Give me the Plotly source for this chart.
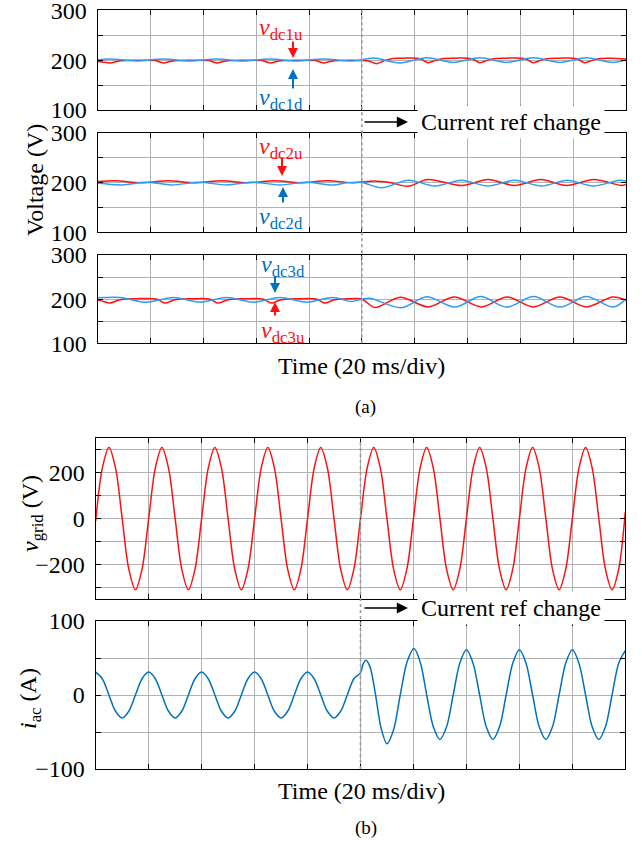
import plotly.graph_objects as go

FONT = "Liberation Serif"
RED = "#FF1010"
DC_BLUE = "#2C9CF4"
AC_BLUE = "#0072BD"
LABEL_BLUE = "#0070C0"
GRID = "#B2B2B2"

W, H = 642, 843

# ---------------- (a) DC-link capacitor voltages (V), time in ms ----------------
dc1u_t = [0, 1.7, 4.7, 7.7, 10.7, 14.7, 21.8, 24.8, 27.8, 30.8, 34.8, 42.0, 45.0, 48.0,
          51.0, 55.0, 62.2, 65.2, 68.2, 71.2, 75.2, 82.4, 85.4, 88.4, 91.4, 95.4, 100.0,
          102.6, 105.6, 108.6, 111.6, 115.3, 122.1, 125.1, 128.1, 131.1, 134.9, 141.7,
          144.7, 147.7, 150.7, 154.8, 161.9, 164.9, 167.9, 170.9, 174.6, 181.4, 184.4,
          187.4, 190.4, 194.2, 200.0]
dc1u_v = [197.5, 196.5, 194.5, 198, 199.5, 199.8, 199.3, 194.5, 198, 199.5, 199.8, 199.3,
          194.5, 198, 199.5, 199.8, 199.3, 194.5, 198, 199.5, 199.8, 199.3, 194.5, 198,
          199.5, 199.8, 199.5,
          198.5, 193.0, 199.0, 203.5, 204.0, 203.0, 195.0, 200.0, 203.5, 204.0, 203.0,
          195.0, 200.0, 203.5, 204.0, 203.0, 195.0, 200.0, 203.5, 204.0, 203.0, 195.0,
          200.0, 203.5, 204.0, 202.5]

dc1d_t = [0, 4.7, 14.7, 24.8, 34.8, 45.0, 55.0, 65.2, 75.2, 85.4, 95.4, 100.0,
          104.5, 114.4, 124.5, 134.6, 144.7, 154.8, 164.9, 175.0, 185.0, 195.1, 200.0]
dc1d_v = [201.0, 202.5, 198.5, 202.5, 198.5, 202.5, 198.5, 202.5, 198.5, 202.5, 198.5, 200.5,
          204.5, 194.5, 205.0, 195.5, 205.0, 195.5, 205.0, 195.5, 205.0, 195.5, 201.0]

dc2u_t = [0, 6.6, 16.6, 26.7, 36.7, 46.8, 56.8, 67.0, 77.0, 87.0, 97.0, 100.0,
          104.7, 110.5, 117.5, 125.0, 137.8, 147.8, 157.9, 167.7, 177.5, 187.9, 198.3, 200.0]
dc2u_v = [202.0, 203.5, 199.5, 203.5, 199.5, 203.5, 199.5, 203.5, 199.5, 203.5, 199.5, 201.0,
          203.0, 200.0, 192.5, 206.0, 194.0, 206.0, 194.0, 206.0, 194.0, 206.0, 194.0, 196.0]

dc2d_t = [0, 8.5, 18.3, 28.0, 38.4, 48.8, 58.9, 69.0, 79.0, 89.0, 94.5, 100.0,
          107.5, 117.6, 127.7, 137.7, 147.8, 157.9, 168.0, 177.8, 187.6, 197.5, 200.0]
dc2d_v = [199.0, 195.0, 200.5, 195.0, 200.5, 195.0, 200.5, 195.0, 200.5, 195.0, 199.5, 200.0,
          189.5, 204.5, 193.0, 204.5, 193.0, 204.5, 193.0, 204.5, 193.0, 204.5, 203.0]

dc3u_t = [0, 1.7, 4.7, 7.7, 10.7, 14.7, 22.5, 25.5, 28.5, 31.5, 35.5, 42.6, 45.6, 48.6,
          51.6, 55.6, 62.8, 65.8, 68.8, 71.8, 75.8, 83.0, 86.0, 89.0, 92.0, 96.0, 100.0,
          105.0, 114.5, 125.1, 135.0, 145.3, 155.0, 164.9, 175.0, 185.0, 195.0, 200.0]
dc3u_v = [198.0, 195.5, 191.0, 197.5, 200.5, 201.0, 200.0, 191.0, 197.5, 200.5, 201.0, 200.0,
          191.0, 197.5, 200.5, 201.0, 200.0, 191.0, 197.5, 200.5, 201.0, 200.0, 191.0, 197.5,
          200.5, 201.0, 200.5,
          181.0, 204.5, 182.5, 205.0, 182.5, 205.0, 182.5, 205.0, 182.5, 205.0, 198.0]

dc3d_t = [0, 8.5, 18.5, 28.6, 38.7, 48.8, 58.9, 69.0, 79.1, 89.0, 96.0, 100.0,
          103.0, 115.0, 124.5, 135.2, 145.0, 154.8, 165.0, 175.0, 185.0, 195.1, 200.0]
dc3d_v = [203.0, 204.0, 193.0, 204.0, 193.0, 204.0, 193.0, 204.0, 193.0, 204.0, 194.5, 200.0,
          202.0, 180.5, 205.5, 182.0, 206.0, 182.0, 206.0, 182.0, 206.0, 182.0, 200.0]

# ---------------- (b) grid voltage (V) and AC current (A) ----------------
vgrid_t = [2.5 * k for k in range(81)]
vgrid_v = [-10, 220, 310, 220, 0, -220, -310, -220,
           0, 220, 310, 220, 0, -220, -310, -220,
           0, 220, 310, 220, 0, -220, -310, -220,
           0, 220, 310, 220, 0, -220, -310, -220,
           0, 220, 310, 220, 0, -220, -310, -220,
           0, 220, 310, 220, 0, -220, -310, -220,
           0, 220, 310, 220, 0, -220, -310, -220,
           0, 220, 310, 220, 0, -220, -310, -220,
           0, 220, 310, 220, 0, -220, -310, -220,
           0, 220, 310, 220, 0, -220, -310, -220,
           30]

iac_t = [0, 2.5, 5, 7.5, 10, 12.5, 15, 17.5,
         20, 22.5, 25, 27.5, 30, 32.5, 35, 37.5,
         40, 42.5, 45, 47.5, 50, 52.5, 55, 57.5,
         60, 62.5, 65, 67.5, 70, 72.5, 75, 77.5,
         80, 82.5, 85, 87.5, 90, 92.5, 95, 97.5,
         100, 101, 102, 103.6, 105.6, 107.8, 110, 112.5, 115, 117.6, 120.2, 122.6,
         125, 127.5, 130, 132.5, 135, 137.5, 140, 142.5, 145, 147.5, 150, 152.5,
         155, 157.5, 160, 162.5, 165, 167.5, 170, 172.5, 175, 177.5, 180, 182.5,
         185, 187.5, 190, 192.5, 195, 197.5, 200]
iac_v = [31, 22, 0, -22, -31, -22, 0, 22,
         31, 22, 0, -22, -31, -22, 0, 22,
         31, 22, 0, -22, -31, -22, 0, 22,
         31, 22, 0, -22, -31, -22, 0, 22,
         31, 22, 0, -22, -31, -22, 0, 22,
         30, 42, 47, 38, 2, -45, -66, -47, 0, 45, 63, 44,
         0, -43, -60, -43, 0, 43, 61, 43, 0, -43, -60, -43,
         0, 43, 61, 43, 0, -43, -60, -43, 0, 43, 61, 43,
         0, -43, -60, -43, 0, 43, 60]

time_ticks = [0, 20, 40, 60, 80, 100, 120, 140, 160, 180, 200]
dc_ticks = [100, 150, 200, 250, 300]
dc_ticktext = ["100", "", "200", "", "300"]
vgrid_ticks = [-300, -200, -100, 0, 100, 200, 300]
vgrid_ticktext = ["", "\u2212200", "", "0", "", "200", ""]
iac_ticks = [-100, -50, 0, 50, 100]
iac_ticktext = ["\u2212100", "", "0", "", "100"]
t_change = 100


def px(x):
    return x / W


def py(y):
    return 1 - y / H


fig = go.Figure()

# subplot layout: (x domain px, y domain px top/bottom, y range, tickvals, ticktext)
panels = [
    ((97.7, 626.0), (10.3, 110.0), [100, 300], dc_ticks, dc_ticktext),
    ((97.7, 626.0), (132.7, 232.3), [100, 300], dc_ticks, dc_ticktext),
    ((97.7, 626.0), (255.0, 343.3), [100, 300], dc_ticks, dc_ticktext),
    ((95.7, 625.3), (438.3, 599.0), [-350, 350], vgrid_ticks, vgrid_ticktext),
    ((95.7, 625.3), (621.0, 769.0), [-100, 100], iac_ticks, iac_ticktext),
]

axis_common = dict(
    showline=True, linecolor="black", linewidth=1.3, mirror="ticks",
    ticks="inside", ticklen=5, tickwidth=1.2, tickcolor="black",
    showgrid=True, gridcolor=GRID, gridwidth=1, zeroline=False,
    automargin=False, ticklabeloverflow="allow",
    tickfont=dict(family=FONT, size=24, color="black"),
)

layout_axes = {}
for i, (xd, yd, yr, tv, tt) in enumerate(panels, start=1):
    sfx = "" if i == 1 else str(i)
    layout_axes["xaxis" + sfx] = dict(
        domain=[px(xd[0]), px(xd[1])], anchor="y" + sfx, range=[0, 200],
        tickvals=time_ticks, showticklabels=False, **axis_common)
    layout_axes["yaxis" + sfx] = dict(
        domain=[py(yd[1]), py(yd[0])], anchor="x" + sfx, range=yr,
        tickvals=tv, ticktext=tt, ticklabelstandoff=5, **axis_common)

series = [
    (dc1u_t, dc1u_v, RED, 1), (dc1d_t, dc1d_v, DC_BLUE, 1),
    (dc2u_t, dc2u_v, RED, 2), (dc2d_t, dc2d_v, DC_BLUE, 2),
    (dc3u_t, dc3u_v, RED, 3), (dc3d_t, dc3d_v, DC_BLUE, 3),
    (vgrid_t, vgrid_v, RED, 4), (iac_t, iac_v, AC_BLUE, 5),
]
for t, v, col, k in series:
    sfx = "" if k == 1 else str(k)
    fig.add_trace(go.Scatter(
        x=t, y=v, mode="lines", xaxis="x" + sfx, yaxis="y" + sfx,
        line=dict(color=col, width=1.5, shape="spline", smoothing=0.9),
        showlegend=False, hoverinfo="skip"))

# dotted marker of the reference step
shapes = [
    dict(type="line", xref="x", yref="paper", x0=t_change, x1=t_change,
         y0=py(343.3), y1=py(10.3), line=dict(color="#9A9A9A", width=1.6, dash="dot")),
    dict(type="line", xref="x4", yref="paper", x0=t_change, x1=t_change,
         y0=py(769.0), y1=py(438.3), line=dict(color="#9A9A9A", width=1.6, dash="dot")),
]


def text(s, x, y, size=24, color="black", angle=0, bg=None):
    d = dict(text=s, x=px(x), y=py(y), xref="paper", yref="paper", showarrow=False,
             xanchor="center", yanchor="middle", textangle=angle,
             font=dict(family=FONT, size=size, color=color))
    if bg:
        d.update(bgcolor=bg, borderpad=3)
    return d


def arrow(xh, yh, xt, yt, color, width=2, size=1.0):
    return dict(text="", x=px(xh), y=py(yh), xref="paper", yref="paper",
                ax=xt - xh, ay=yt - yh, showarrow=True, arrowhead=2,
                arrowsize=size, arrowwidth=width, arrowcolor=color, standoff=0)


annotations = [
    text("Voltage (V)", 35, 180, angle=-90),
    text("<i>v</i><sub>grid</sub> (V)", 32, 514, angle=-90),
    text("<i>i</i><sub>ac</sub> (A)", 30, 699, angle=-90),
    text("Time (20 ms/div)", 362, 366),
    text("Time (20 ms/div)", 362, 791),
    text("(a)", 366, 407, size=19),
    text("(b)", 366, 828, size=19),
    text("Current ref change", 511, 122, bg="white"),
    text("Current ref change", 511, 608, bg="white"),
    arrow(408, 122, 363, 122, "black", width=1.6, size=1.4),
    arrow(408, 608, 363, 608, "black", width=1.6, size=1.4),
    # capacitor voltage labels
    text("<i>v</i><sub>dc1u</sub>", 281, 29, color=RED),
    arrow(293, 58, 293, 40, RED),
    arrow(293, 69, 293, 90, LABEL_BLUE),
    text("<i>v</i><sub>dc1d</sub>", 281, 99, color=LABEL_BLUE),
    text("<i>v</i><sub>dc2u</sub>", 281, 148, color=RED),
    arrow(282, 176, 282, 156, RED),
    arrow(283, 187, 283, 204, LABEL_BLUE),
    text("<i>v</i><sub>dc2d</sub>", 281, 218, color=LABEL_BLUE),
    text("<i>v</i><sub>dc3d</sub>", 283, 266, color=LABEL_BLUE),
    arrow(275, 293, 275, 275, LABEL_BLUE),
    arrow(275, 302, 275, 317, RED),
    text("<i>v</i><sub>dc3u</sub>", 283, 332, color=RED),
]

fig.update_layout(
    width=W, height=H, autosize=False,
    margin=dict(l=0, r=0, t=0, b=0, pad=0, autoexpand=False),
    paper_bgcolor="white", plot_bgcolor="white",
    font=dict(family=FONT, size=24, color="black"),
    shapes=shapes, annotations=annotations, showlegend=False,
    **layout_axes,
)

fig.write_html("out.html")
